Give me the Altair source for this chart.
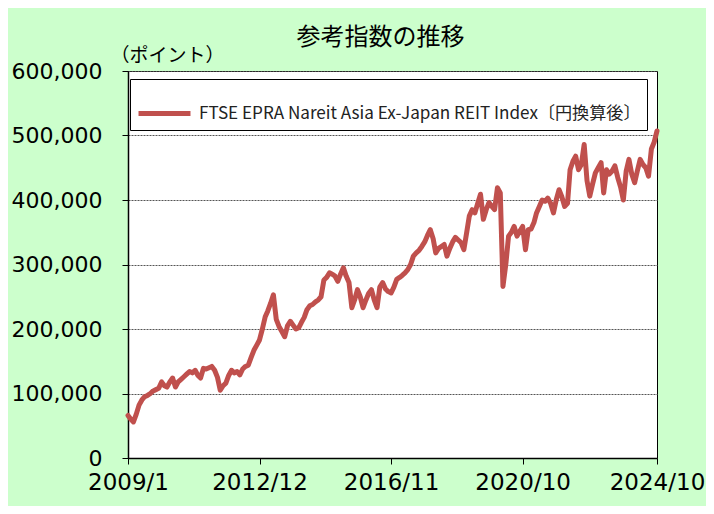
import altair as alt
import pandas as pd

# Monthly index level (thousand points), 2009/1 .. 2024/10
v2009 = [66, 60, 56, 68, 82, 90, 95, 97, 100, 104, 106, 108]
v2010 = [118, 112, 110, 118, 124, 110, 118, 122, 126, 130, 134, 132]
v2011 = [136, 128, 124, 139, 138, 140, 142, 136, 125, 105, 112, 116]
v2012 = [128, 136, 132, 134, 129, 138, 142, 144, 156, 167, 175, 183]
v2013 = [200, 219, 228, 240, 253, 215, 204, 196, 188, 205, 212, 206]
v2014 = [200, 202, 210, 218, 230, 236, 238, 242, 245, 250, 276, 280]
v2015 = [287, 285, 282, 274, 285, 295, 282, 272, 233, 245, 261, 250]
v2016 = [233, 245, 255, 261, 245, 233, 265, 272, 262, 258, 256, 265]
v2017 = [277, 280, 283, 287, 292, 300, 313, 318, 322, 328, 335, 345]
v2018 = [354, 340, 318, 325, 328, 331, 313, 325, 335, 342, 338, 334]
v2019 = [323, 350, 375, 385, 380, 395, 409, 370, 385, 396, 390, 385]
v2020 = [419, 411, 266, 300, 344, 350, 359, 344, 352, 359, 323, 354]
v2021 = [355, 365, 380, 390, 400, 398, 403, 395, 380, 400, 416, 405]
v2022 = [390, 395, 447, 460, 468, 447, 455, 486, 430, 406, 425, 442]
v2023 = [450, 458, 411, 447, 440, 445, 453, 435, 420, 400, 445, 463]
v2024 = [440, 427, 445, 463, 455, 450, 437, 479, 490, 507]

values_k = (v2009 + v2010 + v2011 + v2012 + v2013 + v2014 + v2015 + v2016
            + v2017 + v2018 + v2019 + v2020 + v2021 + v2022 + v2023 + v2024)
dates = pd.date_range("2009-01-01", periods=len(values_k), freq="MS").strftime("%Y-%m-%d").tolist()

series_name = "FTSE EPRA Nareit Asia Ex-Japan REIT Index〔円換算後〕"
title_text = "参考指数の推移"
y_unit = "（ポイント）"
x_ticks = [(2009, 1), (2012, 12), (2016, 11), (2020, 10), (2024, 10)]
y_ticks = [0, 100000, 200000, 300000, 400000, 500000, 600000]

df = pd.DataFrame({
    "date": dates,
    "value": [v * 1000 for v in values_k],
    "series": series_name,
})

NUM_FONT = "DejaVu Sans"
JP_FONT = "Noto Sans CJK JP"

chart = alt.Chart(df).mark_line(strokeWidth=5, strokeJoin="round", strokeCap="round").encode(
    x=alt.X(
        "date:T",
        scale=alt.Scale(
            type="utc",
            domain=[alt.DateTime(year=2009, month=1, date=1, utc=True),
                    alt.DateTime(year=2024, month=10, date=1, utc=True)],
            nice=False,
        ),
        axis=alt.Axis(
            values=[alt.DateTime(year=y, month=m, date=1, utc=True) for y, m in x_ticks],
            labelExpr="utcFormat(datum.value, '%Y/%-m')",
            title=None,
            grid=False,
            labelFont=NUM_FONT,
            labelFontSize=23,
            labelColor="#000000",
            labelPadding=7,
            tickSize=6,
            tickColor="#000000",
            domainColor="#000000",
            domainWidth=1.5,
            labelOverlap=False,
            labelFlush=False,
        ),
    ),
    y=alt.Y(
        "value:Q",
        scale=alt.Scale(domain=[0, 600000], nice=False),
        axis=alt.Axis(
            values=y_ticks,
            labelExpr="format(datum.value, ',')",
            title=y_unit,
            titleAngle=0,
            titleAlign="left",
            titleBaseline="middle",
            titleX=-18,
            titleY=-16,
            titleFont=JP_FONT,
            titleFontSize=19,
            titleFontWeight="normal",
            titleColor="#000000",
            labelFont=NUM_FONT,
            labelFontSize=22,
            labelColor="#000000",
            labelPadding=20,
            tickSize=6,
            tickColor="#000000",
            domainColor="#000000",
            domainWidth=1.5,
            gridColor="#555555",
            gridDash=[2, 1],
            gridWidth=1,
        ),
    ),
    color=alt.Color(
        "series:N",
        scale=alt.Scale(range=["#c0504d"]),
        legend=alt.Legend(
            title=None,
            orient="none",
            legendX=2,
            legendY=8,
            direction="vertical",
            symbolType="stroke",
            symbolStrokeWidth=5,
            symbolSize=2700,
            labelFont=JP_FONT,
            labelFontSize=17.1,
            labelColor="#222222",
            labelLimit=600,
            labelOffset=6,
            padding=6,
            strokeColor="#000000",
            fillColor="#ffffff",
        ),
    ),
).properties(
    width=529,
    height=387,
    title=alt.TitleParams(
        text=title_text,
        font=JP_FONT,
        fontSize=24,
        fontWeight="normal",
        color="#000000",
        anchor="middle",
        frame="group",
        dx=-12,
        dy=24,
        offset=20,
    ),
    background="#ccffcc",
    padding={"left": 120, "top": 63, "right": 49, "bottom": 48},
    autosize=alt.AutoSizeParams(type="none"),
).configure_view(
    stroke="#000000",
    strokeWidth=1,
    fill="#ffffff",
)

chart.save("out.html", embed_options={"renderer": "svg", "actions": False})
